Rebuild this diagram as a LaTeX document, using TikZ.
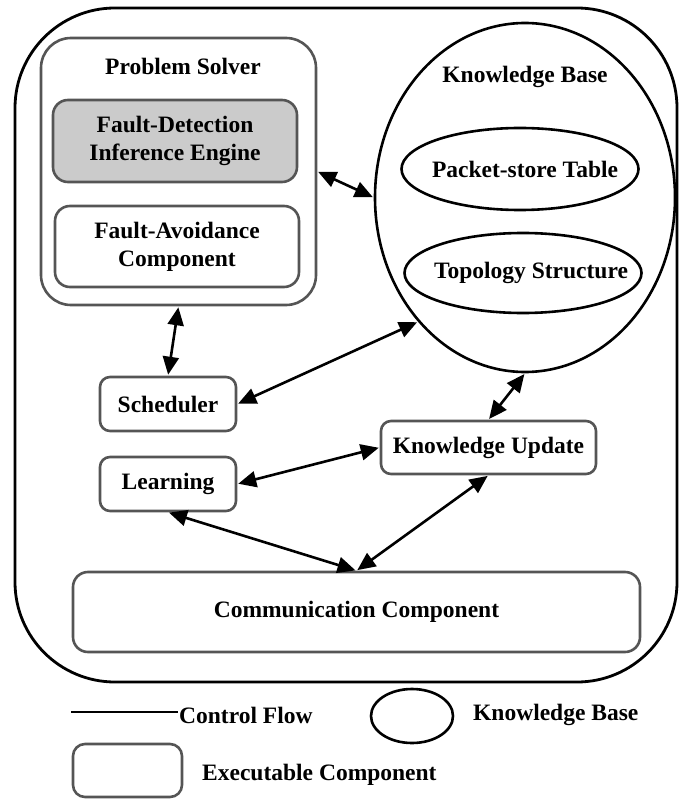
\documentclass[tikz,border=0pt]{standalone}
\usepackage{fontspec}
\setmainfont{Liberation Serif}
\usetikzlibrary{arrows.meta,shapes.geometric}
\definecolor{boxgray}{HTML}{555555}
\definecolor{fillgray}{HTML}{CBCBCB}
\begin{document}
\begin{tikzpicture}[x=1pt,y=-1pt,
  every node/.style={font=\fontsize{23.5}{28}\selectfont\bfseries},
  exbox/.style={draw=boxgray,line width=2.6pt,rounded corners=12pt,rectangle,inner sep=0pt},
  kbell/.style={draw=black,line width=2.6pt,ellipse,inner sep=0pt},
  dflow/.style={line width=2.6pt,{Triangle[length=18pt,width=16pt]}-{Triangle[length=18pt,width=16pt]},shorten <=1pt,shorten >=1pt},
  lbl/.style={inner sep=0pt}
]
\useasboundingbox (0,0) rectangle (680,799);
% outer frame
\draw[line width=2.8pt,rounded corners=100pt] (15,8) rectangle (677,682);

% problem solver
\node[exbox,rounded corners=30pt,minimum width=275pt,minimum height=267pt] (ps) at (178.5,171.5) {};
\node[lbl] (pst) at (183,66) {Problem Solver};
\node[exbox,fill=fillgray,rounded corners=15pt,minimum width=244pt,minimum height=82pt,align=center] (fd) at (175,141) {Fault-Detection\\Inference Engine};
\node[exbox,rounded corners=15pt,minimum width=244pt,minimum height=81pt,align=center] (fa) at (177,246.5) {Fault-Avoidance\\Component};

% knowledge base
\node[kbell,minimum width=300pt,minimum height=349pt] (kb) at (525,197.5) {};
\node[lbl] (kbt) at (525,77) {Knowledge Base};
\node[kbell,minimum width=237pt,minimum height=82pt] (pt) at (520,169) {};
\node[lbl] (ptt) at (525,169) {Packet-store Table};
\node[kbell,minimum width=237pt,minimum height=80pt] (ts) at (523,273) {};
\node[lbl] (tst) at (531,273) {Topology Structure};

% components
\node[exbox,rounded corners=10pt,minimum width=136pt,minimum height=54pt] (sch) at (168,404) {Scheduler};
\node[exbox,rounded corners=10pt,minimum width=136pt,minimum height=54pt] (lrn) at (168,484) {Learning};
\node[exbox,rounded corners=10pt,minimum width=215pt,minimum height=53pt] (ku) at (488.5,447.5) {Knowledge Update};
\node[exbox,rounded corners=15pt,minimum width=567pt,minimum height=80pt] (cc) at (356.5,612) {Communication Component};

% connectors
\draw[dflow] (ps.east) -- (kb.west);
\draw[dflow] (ps.south) -- (sch.north);
\draw[dflow] (sch.east) -- (kb.south west);
\draw[dflow] (kb.south) -- (ku.north);
\draw[dflow] (lrn.east) -- (ku.west);
\draw[dflow] (lrn.south) -- (cc.north);
\draw[dflow] (ku.south) -- (cc.north);

% legend
\coordinate (l1) at (71,712);
\coordinate (l2) at (178,712);
\draw[line width=2.6pt] (l1) -- (l2);
\node[lbl,anchor=west] (lcf) at (179,715) {Control Flow};
\node[kbell,minimum width=82pt,minimum height=54pt] (lkb) at (412,716) {};
\node[lbl,anchor=west] (lkbt) at (473,715) {Knowledge Base};
\node[exbox,rounded corners=12pt,minimum width=109pt,minimum height=53pt] (lex) at (127.5,770.5) {};
\node[lbl,anchor=west] (lext) at (202,775) {Executable Component};
\end{tikzpicture}
\end{document}
